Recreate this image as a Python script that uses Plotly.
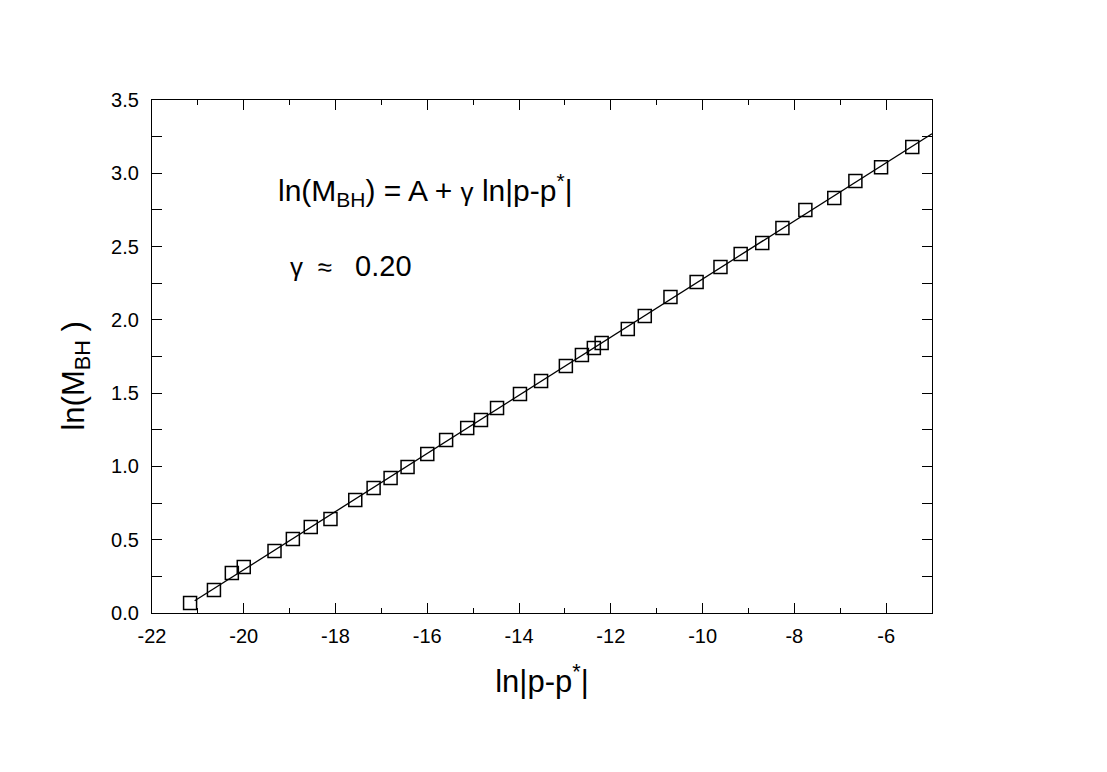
import numpy as np
import plotly.graph_objects as go

# ln|p-p*| values
ln_dp = [-21.17, -20.65, -20.26, -20.0, -19.33, -18.93, -18.54, -18.11, -17.57, -17.17,
         -16.80, -16.43, -16.0, -15.59, -15.13, -14.83, -14.48, -13.98, -13.52, -12.98,
         -12.63, -12.37, -12.20, -11.63, -11.26, -10.70, -10.13, -9.61, -9.17, -8.70,
         -8.26, -7.76, -7.13, -6.67, -6.11, -5.43]
# ln(M_BH)
ln_mbh = [0.068, 0.157, 0.273, 0.314, 0.423, 0.505, 0.587, 0.641, 0.771, 0.853,
          0.921, 0.996, 1.085, 1.180, 1.262, 1.317, 1.398, 1.494, 1.583, 1.685,
          1.760, 1.808, 1.842, 1.937, 2.026, 2.156, 2.258, 2.360, 2.449, 2.524,
          2.626, 2.749, 2.831, 2.947, 3.042, 3.179]

fit_range = [-21.07, -5.0]
x_ticks = [-22, -20, -18, -16, -14, -12, -10, -8, -6]
x_labels = ["-22", "-20", "-18", "-16", "-14", "-12", "-10", "-8", "-6"]
y_ticks = [0.0, 0.5, 1.0, 1.5, 2.0, 2.5, 3.0, 3.5]
y_labels = ["0.0", "0.5", "1.0", "1.5", "2.0", "2.5", "3.0", "3.5"]

# linear fit  ln(M) = A + gamma * ln|p-p*|
gamma, A = np.polyfit(ln_dp, ln_mbh, 1)
fx = np.array(fit_range)
fy = A + gamma * fx

FONT = "Liberation Sans, Arial, sans-serif"

fig = go.Figure()
fig.add_trace(go.Scatter(x=fx, y=fy, mode="lines",
                         line=dict(color="black", width=1.3), showlegend=False))
fig.add_trace(go.Scatter(x=ln_dp, y=ln_mbh, mode="markers",
                         marker=dict(symbol="square-open", size=13,
                                     color="black", line=dict(width=1.5)),
                         showlegend=False))

# annotations (formula + gamma value)
fig.add_annotation(x=-19.3, y=2.885, xref="x", yref="y", xanchor="left", yanchor="middle",
                   showarrow=False,
                   text="ln(M<sub>BH</sub>) = A + <span style='font-size:26px'>γ</span> ln|p-p<sup>*</sup>|",
                   font=dict(size=30, color="black", family=FONT))
fig.add_annotation(x=-19.04, y=2.37, xref="x", yref="y", xanchor="left", yanchor="middle",
                   showarrow=False,
                   text="<span style='font-size:26px'>γ  ≈ </span>  0.20",
                   font=dict(size=29, color="black", family=FONT))

# y axis title placed by hand (sits a bit below the axis centre in the original)
fig.add_annotation(x=-0.098, y=0.462, xref="paper", yref="paper", textangle=-90,
                   xanchor="center", yanchor="middle", showarrow=False,
                   text="ln(M<sub>BH</sub> )",
                   font=dict(size=31, color="black", family=FONT))

axis_common = dict(showline=True, linecolor="black", linewidth=1.3, mirror="ticks",
                   ticks="inside", tickcolor="black", tickwidth=1.3, showgrid=False,
                   zeroline=False, tickfont=dict(size=20, color="black", family=FONT))

fig.update_xaxes(range=[-22, -5], tickvals=x_ticks, ticktext=x_labels, ticklen=10,
                 ticklabelstandoff=5,
                 minor=dict(dtick=1, tick0=-22, ticklen=5, ticks="inside",
                            tickcolor="black", tickwidth=1.3),
                 title=dict(text="ln|p-p<sup>*</sup>|", font=dict(size=31, family=FONT, color="black"),
                            standoff=24),
                 **axis_common)
fig.update_yaxes(range=[0, 3.5], tickvals=y_ticks, ticktext=y_labels, ticklen=10,
                 ticklabelstandoff=8,
                 minor=dict(dtick=0.25, tick0=0, ticklen=10, ticks="inside",
                            tickcolor="black", tickwidth=1.3),
                 **axis_common)

fig.update_layout(width=1107, height=772,
                  margin=dict(l=144, r=183, t=92, b=167),
                  plot_bgcolor="white", paper_bgcolor="white",
                  font=dict(family=FONT, color="black"))

fig.write_html("out.html")
